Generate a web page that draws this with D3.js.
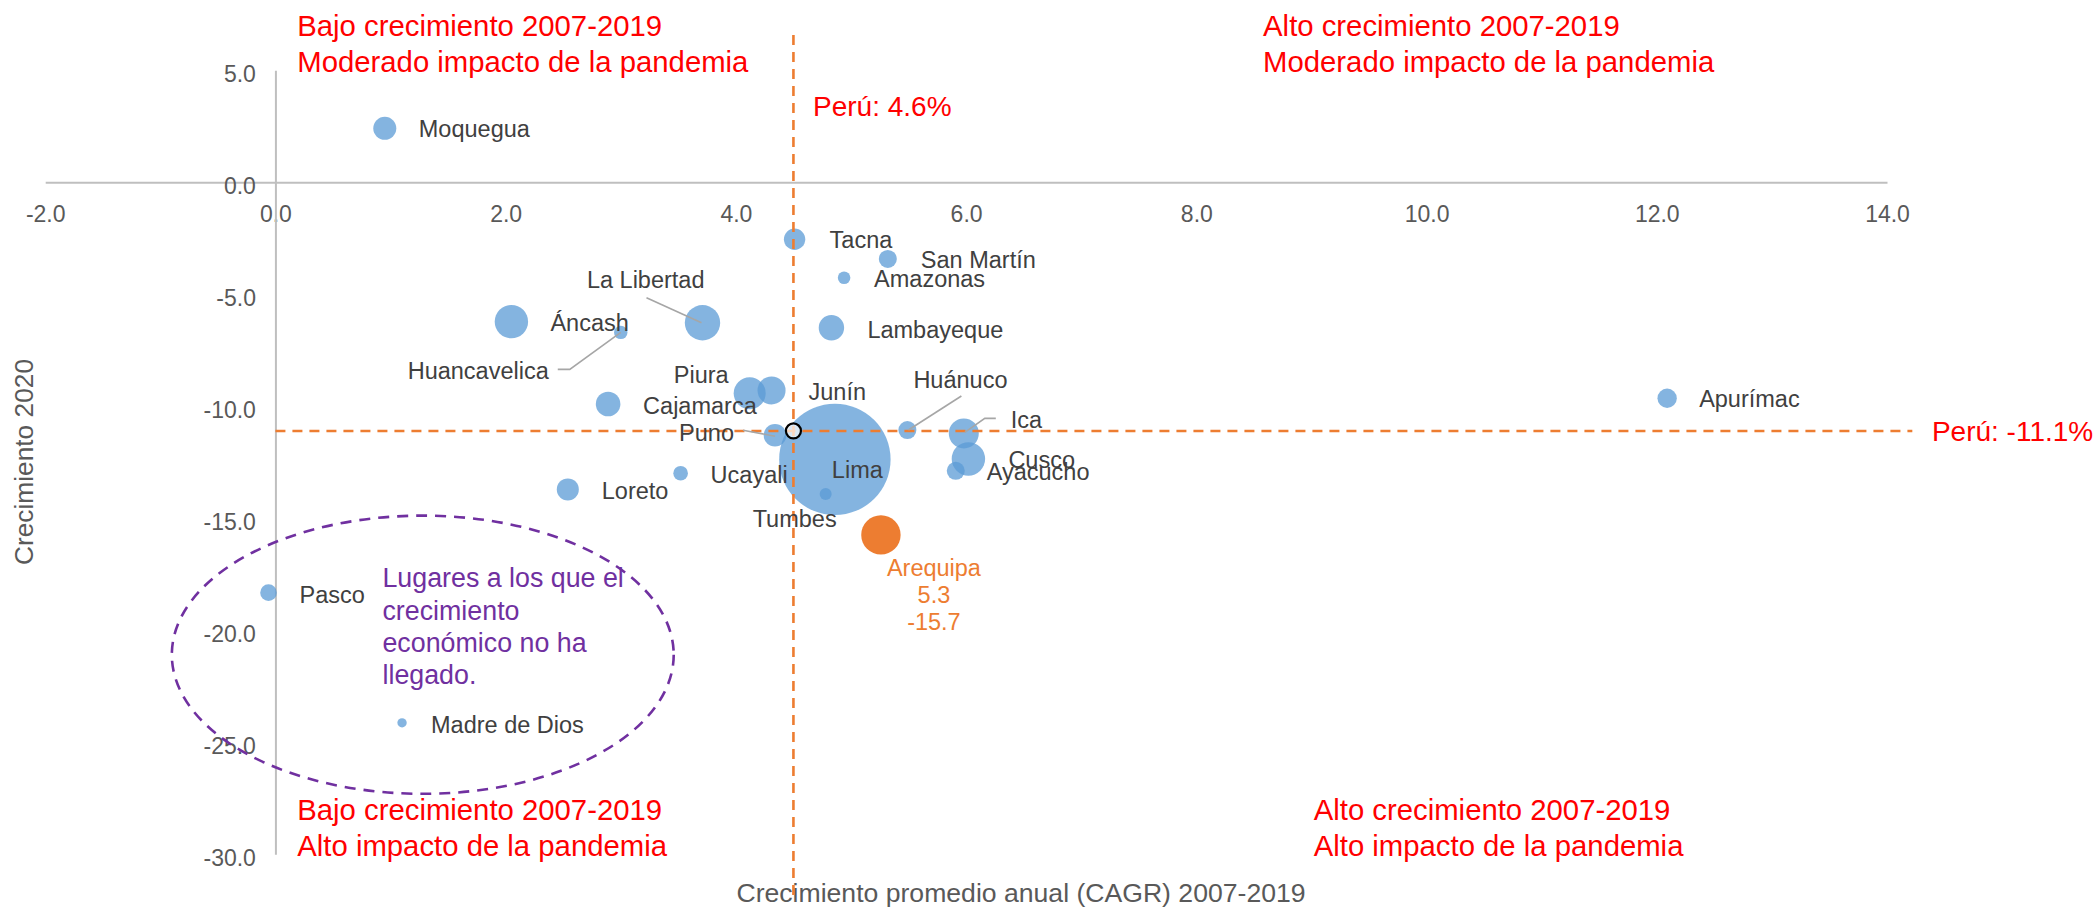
<!DOCTYPE html>
<html><head><meta charset="utf-8">
<script src="https://cdn.jsdelivr.net/npm/d3@7"></script>
<style>
html,body{margin:0;padding:0;background:#fff;}
svg text{font-family:"Liberation Sans", Arial, sans-serif;}
</style></head><body>
<svg id="chart" width="2098" height="914"></svg>
<script>
// ---------- DATA ----------
const regions = ["Lima","Arequipa","La Libertad","Áncash","Cusco","Piura","Ica","Junín","Lambayeque","Cajamarca","Moquegua","Puno","Loreto","Tacna","Apurímac","San Martín","Huánuco","Ayacucho","Pasco","Ucayali","Huancavelica","Amazonas","Tumbes","Madre de Dios"];
const cagr       = [4.86, 5.26, 3.71, 2.05, 6.02, 4.12, 5.98, 4.31, 4.83, 2.89, 0.95, 4.34, 2.54, 4.51, 12.09, 5.32, 5.49, 5.91, -0.06, 3.52, 3.00, 4.94, 4.78, 1.10];
const growth2020 = [-12.37, -15.74, -6.27, -6.22, -12.35, -9.42, -11.21, -9.29, -6.49, -9.90, 2.41, -11.29, -13.71, -2.54, -9.64, -3.42, -11.06, -12.88, -18.32, -12.99, -6.70, -4.26, -13.92, -24.13];
const bubbleSize = [44.0, 5.50, 4.44, 3.96, 3.96, 3.63, 3.19, 2.78, 2.29, 2.15, 1.88, 1.81, 1.72, 1.62, 1.33, 1.15, 1.15, 1.15, 0.98, 0.76, 0.64, 0.56, 0.51, 0.31];
const highlight = "Arequipa";

const peruCagr = 4.5;
const peruGrowth = -11.1;
const peruCagrLabel = "Perú: 4.6%";
const peruGrowthLabel = "Perú: -11.1%";

const xTicks = [-2, 0, 2, 4, 6, 8, 10, 12, 14];
const yTicks = [5, 0, -5, -10, -15, -20, -25, -30];
const xTitle = "Crecimiento promedio anual (CAGR) 2007-2019";
const yTitle = "Crecimiento 2020";

const quadrantTexts = [
  {lines: ["Bajo crecimiento 2007-2019", "Moderado impacto de la pandemia"], x: 0.19, y: 7.02},
  {lines: ["Alto crecimiento 2007-2019", "Moderado impacto de la pandemia"], x: 8.58, y: 7.02},
  {lines: ["Bajo crecimiento 2007-2019", "Alto impacto de la pandemia"], x: 0.19, y: -27.98},
  {lines: ["Alto crecimiento 2007-2019", "Alto impacto de la pandemia"], x: 9.02, y: -27.98}
];
const noteLines = ["Lugares a los que el", "crecimiento", "económico no ha", "llegado."];
const noteAnchor = {x: 0.93, y: -17.65};
const noteEllipse = {cx: 1.28, cy: -21.09, rx: 2.18, ry: 6.21};

// ---------- LAYOUT (label placement) ----------
const labelLayout = {
  "Moquegua": {dx: 34, dy: 0},
  "Tacna": {dx: 35, dy: 0},
  "San Martín": {dx: 33, dy: 1},
  "Amazonas": {dx: 30, dy: 1},
  "La Libertad": {dx: 2, dy: -43, anchor: "end", leader: [[-56,-25],[-1,0]]},
  "Áncash": {dx: 39, dy: 1},
  "Huancavelica": {dx: -72, dy: 38, anchor: "end", leader: [[-63,37],[-51,37],[0,0]]},
  "Lambayeque": {dx: 36, dy: 2},
  "Piura": {dx: -21, dy: -19, anchor: "end"},
  "Junín": {dx: 37, dy: 1},
  "Cajamarca": {dx: 35, dy: 1},
  "Puno": {dx: -41, dy: -3, anchor: "end", leader: [[-32,-5],[0,1]]},
  "Lima": {dx: -3, dy: 10},
  "Tumbes": {dx: 11, dy: 24, anchor: "end"},
  "Ucayali": {dx: 30, dy: 1},
  "Loreto": {dx: 34, dy: 1},
  "Huánuco": {dx: 6, dy: -51, leader: [[54,-34],[1,0]]},
  "Ica": {dx: 47, dy: -14, leader: [[1,-1],[21,-15],[32,-15]]},
  "Cusco": {dx: 40, dy: 1},
  "Ayacucho": {dx: 31, dy: 1},
  "Apurímac": {dx: 32, dy: 0},
  "Pasco": {dx: 31, dy: 2},
  "Madre de Dios": {dx: 29, dy: 2},
  "Arequipa": {dx: 53, dy: 33, anchor: "middle", multi: true}
};

// ---------- CHART ----------
const svg = d3.select("#chart");
svg.append("rect").attr("width", 2098).attr("height", 914).attr("fill", "#fff");

const x = d3.scaleLinear().domain([-2, 14]).range([45.2, 1887]);
const y = d3.scaleLinear().domain([5, -30]).range([70.3, 854.3]);
const r = d3.scaleSqrt().domain([0, d3.max(bubbleSize)]).range([0, 55.7]);

const fmt = d => d.toFixed(1);

// X axis (crosses at y = 0)
const gx = svg.append("g").attr("transform", `translate(0,${y(0)})`)
  .call(d3.axisBottom(x).tickValues(xTicks).tickSize(0).tickPadding(23).tickFormat(fmt));
gx.select(".domain").attr("stroke", "#bfbfbf").attr("stroke-width", 2);
gx.selectAll("text").attr("fill", "#595959").attr("font-size", 23)
  .attr("font-family", '"Liberation Sans", Arial, sans-serif');

// Y axis (crosses at x = 0)
const gy = svg.append("g").attr("transform", `translate(${x(0)},0)`)
  .call(d3.axisLeft(y).tickValues(yTicks).tickSize(0).tickPadding(19.5).tickFormat(fmt));
gy.select(".domain").attr("stroke", "#bfbfbf").attr("stroke-width", 2);
gy.selectAll("text").attr("fill", "#595959").attr("font-size", 23).attr("dy", "0.48em")
  .attr("font-family", '"Liberation Sans", Arial, sans-serif');

// Axis titles
svg.append("text").attr("x", 1021).attr("y", 902).attr("text-anchor", "middle")
  .attr("font-size", 26.6).attr("fill", "#595959").text(xTitle);
svg.append("text").attr("transform", "translate(33,462) rotate(-90)").attr("text-anchor", "middle")
  .attr("font-size", 26.3).attr("fill", "#595959").text(yTitle);

// Data records
const data = regions.map((name, i) => ({name, x: cagr[i], y: growth2020[i], s: bubbleSize[i]}))
  .sort((a, b) => b.s - a.s);

// Bubbles
svg.append("g").selectAll("circle").data(data).join("circle")
  .attr("cx", d => x(d.x)).attr("cy", d => y(d.y)).attr("r", d => r(d.s))
  .attr("fill", d => d.name === highlight ? "#ED7D31" : "#5B9BD5")
  .attr("fill-opacity", d => d.name === highlight ? 1 : 0.75);

// Perú reference lines
const orange = "#ED7D31";
svg.append("line").attr("x1", x(0)).attr("x2", x(14.22)).attr("y1", y(peruGrowth)).attr("y2", y(peruGrowth))
  .attr("stroke", orange).attr("stroke-width", 2.6).attr("stroke-dasharray", "10 7");
svg.append("line").attr("x1", x(peruCagr)).attr("x2", x(peruCagr)).attr("y1", y(6.58)).attr("y2", y(-31.9))
  .attr("stroke", orange).attr("stroke-width", 2.6).attr("stroke-dasharray", "10 7");
svg.append("circle").attr("cx", x(peruCagr)).attr("cy", y(peruGrowth)).attr("r", 7.5)
  .attr("fill", "#ffffff").attr("fill-opacity", 0.7).attr("stroke", "#000").attr("stroke-width", 2.2);

svg.append("text").attr("x", x(4.67)).attr("y", y(3.41)).attr("dy", "0.36em")
  .attr("font-size", 28).attr("fill", "#FF0000").text(peruCagrLabel);
svg.append("text").attr("x", x(14.39)).attr("y", y(peruGrowth)).attr("dy", "0.36em")
  .attr("font-size", 28).attr("fill", "#FF0000").text(peruGrowthLabel);

// Leaders and labels
const lg = svg.append("g");
const tg = svg.append("g");
data.forEach(d => {
  const L = labelLayout[d.name];
  if (!L) return;
  const cx = x(d.x), cy = y(d.y);
  if (L.leader) {
    lg.append("polyline")
      .attr("points", L.leader.map(p => `${cx + p[0]},${cy + p[1]}`).join(" "))
      .attr("fill", "none").attr("stroke", "#a6a6a6").attr("stroke-width", 1.6);
  }
  if (L.multi) {
    const lines = [d.name, d.x.toFixed(1), d.y.toFixed(1)];
    lines.forEach((t, k) => {
      tg.append("text").attr("x", cx + L.dx).attr("y", cy + L.dy + k * 27).attr("dy", "0.36em")
        .attr("text-anchor", "middle").attr("font-size", 23.5).attr("fill", "#ED7D31").text(t);
    });
  } else {
    tg.append("text").attr("x", cx + L.dx).attr("y", cy + L.dy).attr("dy", "0.36em")
      .attr("text-anchor", L.anchor || "start").attr("font-size", 23.5).attr("fill", "#404040").text(d.name);
  }
});

// Quadrant texts
quadrantTexts.forEach(q => {
  q.lines.forEach((t, k) => {
    svg.append("text").attr("x", x(q.x)).attr("y", y(q.y) + k * 36.6).attr("dy", "0.36em")
      .attr("font-size", 29.3).attr("fill", "#FF0000").text(t);
  });
});

// Note + dashed ellipse
noteLines.forEach((t, k) => {
  svg.append("text").attr("x", x(noteAnchor.x)).attr("y", y(noteAnchor.y) + k * 32.2).attr("dy", "0.36em")
    .attr("font-size", 26.8).attr("fill", "#7030A0").text(t);
});
svg.append("ellipse")
  .attr("cx", x(noteEllipse.cx)).attr("cy", y(noteEllipse.cy))
  .attr("rx", x(noteEllipse.cx + noteEllipse.rx) - x(noteEllipse.cx))
  .attr("ry", y(noteEllipse.cy - noteEllipse.ry) - y(noteEllipse.cy))
  .attr("fill", "none").attr("stroke", "#7030A0").attr("stroke-width", 2.6).attr("stroke-dasharray", "11 8");
</script>
</body></html>
